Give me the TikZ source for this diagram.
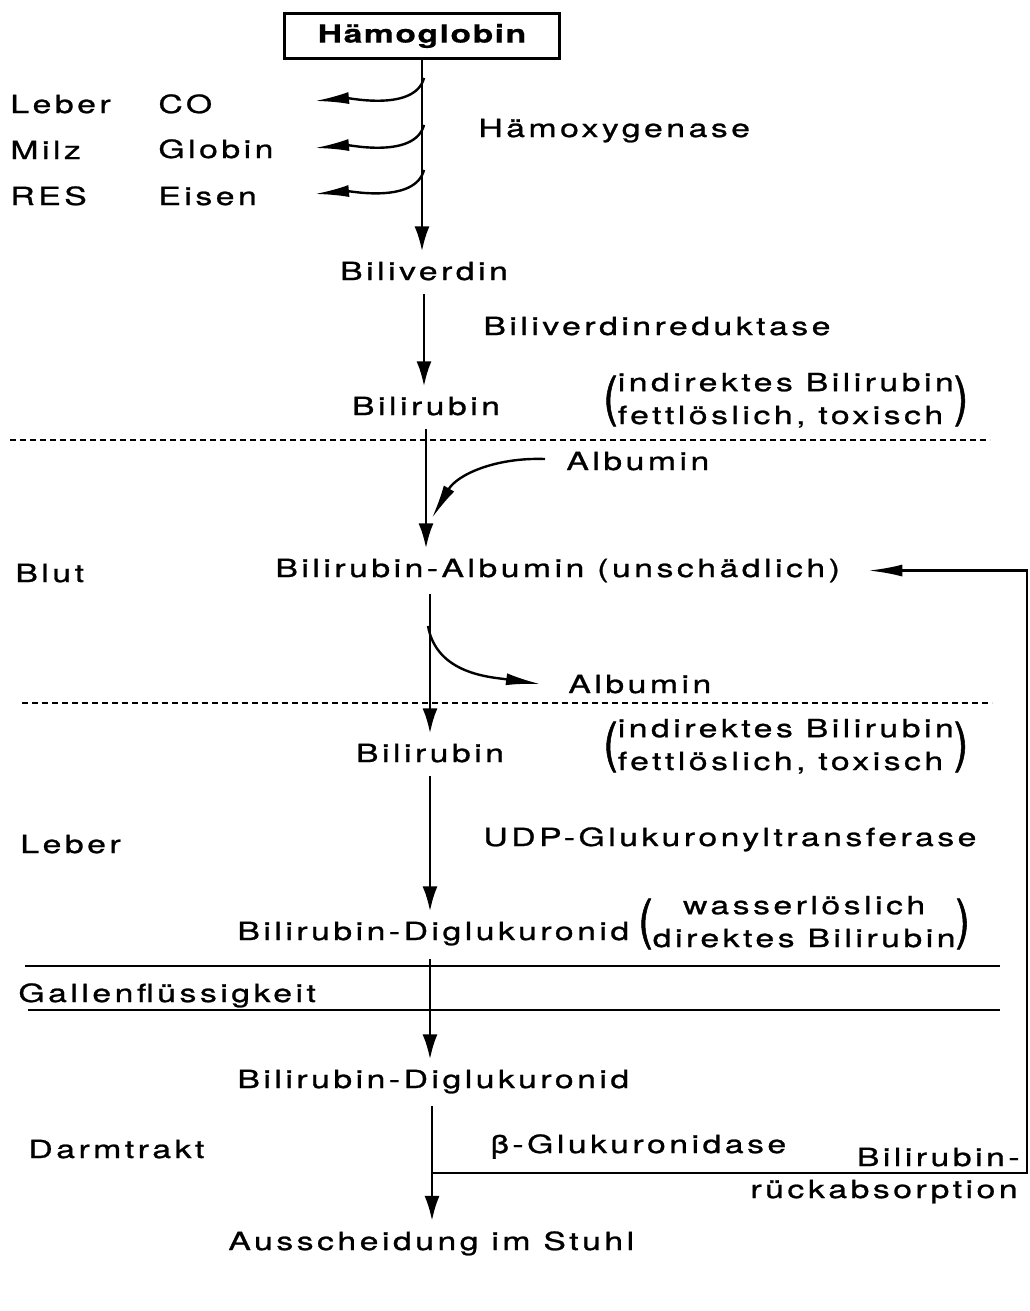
\documentclass[tikz,border=0pt]{standalone}
\usepackage{fontspec}
\setmainfont{TeX Gyre Heros}[FakeStretch=1.35,LetterSpace=14,FakeBold=1,
  BoldFeatures={LetterSpace=6,FakeBold=0.5}]
\usetikzlibrary{arrows.meta}
\tikzstyle{txt}=[inner sep=0pt, anchor=base west]
\tikzstyle{ctxt}=[inner sep=0pt, anchor=base]
\tikzstyle{flow}=[line width=1.4pt, -{Latex[length=12.5pt,width=7.5pt]}, shorten <=6.5pt, shorten >=5pt]
\tikzstyle{side}=[line width=1.2pt, -{Latex[length=17pt,width=6pt]}]
\tikzstyle{bound}=[line width=0.8pt, dash pattern=on 3pt off 2pt]
\tikzstyle{zone}=[line width=1.1pt]
\newcommand{\bigpar}[1]{\vcenter{\hbox{\fontsize{27pt}{27pt}\selectfont\addfontfeature{FakeStretch=0.8}#1}}}
\newcommand{\note}[2]{$\bigpar{(}\vcenter{\hbox{\renewcommand{\arraystretch}{1.06}%
  \begin{tabular}{@{}#1@{}}#2\end{tabular}}}\bigpar{)}$}

\begin{document}
\begin{tikzpicture}[x=0.5pt, y=-0.5pt, font=\fontsize{12.5pt}{15.5pt}\selectfont]
\useasboundingbox (0,0) rectangle (1029,1311);

% Haemoglobin breakdown
\node[draw, line width=1.3pt, minimum width=137.5pt, minimum height=22.5pt,
      font=\fontsize{12.5pt}{16pt}\selectfont\bfseries] (hb) at (422,36) {Hämoglobin};
\node[txt] (leber) at (10,113) {Leber};
\node[txt] (milz) at (10,159) {Milz};
\node[txt] (res) at (10,205) {RES};
\node[txt] (co) at (158,113) {CO};
\node[txt] (globin) at (158,158) {Globin};
\node[txt] (eisen) at (158,205) {Eisen};
\node[txt] (hox) at (478,137) {Hämoxygenase};
\node[ctxt] (bv) at (424,280) {Biliverdin};
\node[txt] (bvr) at (483,335) {Biliverdinreduktase};
\node[ctxt] (br1) at (426,415) {Bilirubin};
\node[anchor=west, inner sep=0pt] (n1) at (603,401) {\note{l}{indirektes Bilirubin\\fettlöslich, toxisch}};

% Blut
\node[txt] (alb1) at (566,470) {Albumin};
\node[txt] (blut) at (15,582) {Blut};
\node[txt] (ba) at (275,577) {Bilirubin-Albumin (unschädlich)};
\node[txt] (alb2) at (568,693) {Albumin};

% Leber
\node[ctxt] (br2) at (430,762) {Bilirubin};
\node[anchor=west, inner sep=0pt] (n2) at (603,747) {\note{l}{indirektes Bilirubin\\fettlöslich, toxisch}};
\node[txt] (leber2) at (20,853) {Leber};
\node[txt] (udp) at (483,846) {UDP-Glukuronyltransferase};
\node[txt] (bd1) at (237,940) {Bilirubin-Diglukuronid};
\node[anchor=west, inner sep=0pt] (n3) at (638,924) {\note{c}{wasserlöslich\\direktes Bilirubin}};
\node[txt] (galle) at (18,1002) {Gallenflüssigkeit};

% Darm
\node[txt] (bd2) at (237,1088) {Bilirubin-Diglukuronid};
\node[txt] (darm) at (28,1158) {Darmtrakt};
\node[txt] (gluc) at (490,1153) {β-Glukuronidase};
\node[inner sep=0pt, anchor=base east] (rueck1) at (1020,1166) {Bilirubin-};
\node[inner sep=0pt, anchor=base east] (rueck2) at (1018,1198) {rückabsorption};
\node[txt] (stuhl) at (228,1250) {Ausscheidung im Stuhl};

% boundaries
\draw[bound] (10,440) -- (990,440);
\draw[bound] (22,703) -- (992,703);
\draw[zone] (25,966) -- (1000,966);
\draw[zone] (28,1010) -- (1000,1010);

% main pathway
\draw[flow, shorten <=0pt] (hb.south) -- (hb.south |- bv.north);
\draw[flow] (bv.south) -- (bv.south |- br1.north);
\draw[flow] (br1.south) -- (br1.south |- ba.north);
\draw[flow] (br1.south -| br2) ++(0,165) coordinate (s4) -- (s4 |- br2.north);
\draw[flow] (br2.south) -- (br2.south |- bd1.north);
\draw[flow] (br2.south |- bd1.south) -- (br2.south |- bd2.north);
\draw[flow] (432,1093) coordinate (s7) -- (s7 |- stuhl.north);

% side branches
\coordinate (b1) at (424,78);
\coordinate (b2) at (424,125);
\coordinate (b3) at (424,170);
\coordinate (e1) at (315,101);
\coordinate (e2) at (315,148);
\coordinate (e3) at (315,194);
\draw[side] (b1) to[out=-105, in=5, looseness=0.8] (e1);
\draw[side] (b2) to[out=-105, in=5, looseness=0.8] (e2);
\draw[side] (b3) to[out=-105, in=5, looseness=0.8] (e3);
\coordinate (a1s) at (545,459);
\coordinate (a1e) at (432,518);
\draw[side] (a1s) to[out=178, in=60] (a1e);
\coordinate (a2s) at (428,626);
\coordinate (a2e) at (540,684);
\draw[side] (a2s) to[out=-80, in=172] (a2e);

% reabsorption loop
\coordinate (ra) at (432,1173);
\coordinate (rc) at (1027,1173);
\draw[side, line width=1.3pt, shorten >=14pt] (ra) -- (rc) |- (ba.east);
\end{tikzpicture}
\end{document}
